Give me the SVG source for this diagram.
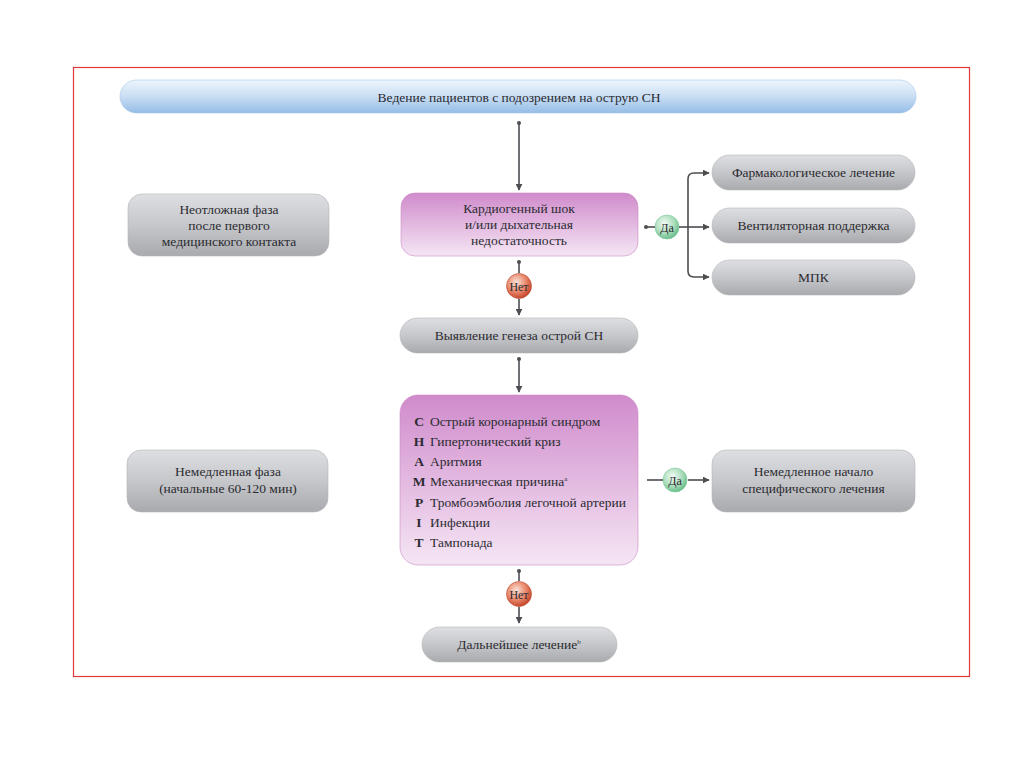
<svg xmlns="http://www.w3.org/2000/svg" width="1024" height="767" viewBox="0 0 1024 767">
<defs>
<linearGradient id="gGray" x1="0" y1="0" x2="0" y2="1">
<stop offset="0" stop-color="#dedfe2"/>
<stop offset="0.5" stop-color="#c6c7ca"/>
<stop offset="1" stop-color="#a9aaae"/>
</linearGradient>
<linearGradient id="gPink" x1="0" y1="0" x2="0" y2="1">
<stop offset="0" stop-color="#d08bcc"/>
<stop offset="1" stop-color="#f5e6f4"/>
</linearGradient>
<linearGradient id="gBlue" x1="0" y1="0" x2="0" y2="1">
<stop offset="0" stop-color="#eef5fc"/>
<stop offset="0.5" stop-color="#c9def3"/>
<stop offset="1" stop-color="#95bde7"/>
</linearGradient>
<radialGradient id="gGreen" cx="0.4" cy="0.35" r="0.7">
<stop offset="0" stop-color="#f2fbf5"/>
<stop offset="0.6" stop-color="#a8dcb9"/>
<stop offset="1" stop-color="#5fb883"/>
</radialGradient>
<radialGradient id="gRed" cx="0.4" cy="0.35" r="0.7">
<stop offset="0" stop-color="#fbe3d8"/>
<stop offset="0.55" stop-color="#e8876a"/>
<stop offset="1" stop-color="#bf3b22"/>
</radialGradient>
<marker id="arr" viewBox="0 0 10 10" refX="9" refY="5" markerWidth="7" markerHeight="7" markerUnits="userSpaceOnUse" orient="auto">
<path d="M0,0 L10,5 L0,10 z" fill="#4d4d52"/>
</marker>
<marker id="tail" viewBox="0 0 10 10" refX="5" refY="5" markerWidth="4" markerHeight="4" markerUnits="userSpaceOnUse" orient="auto">
<circle cx="5" cy="5" r="5" fill="#4d4d52"/>
</marker>
</defs>
<style>
.t{font-family:"Liberation Serif","Times New Roman",serif;font-size:13.5px;fill:#2b2b31;text-anchor:middle}
.l{font-family:"Liberation Serif","Times New Roman",serif;font-size:13.5px;fill:#2b2b31}
.b{font-weight:bold}
.gray{fill:url(#gGray);stroke:#b5b6b9;stroke-width:0.6}
.pink{fill:url(#gPink);stroke:#c98ac5;stroke-width:0.6}
.c{stroke:#4d4d52;stroke-width:1.6;fill:none}
</style>
<rect width="1024" height="767" fill="#ffffff"/>
<rect x="73.5" y="67.5" width="896" height="609" fill="none" stroke="#e2383a" stroke-width="1.2"/>

<g id="header">
<rect x="120" y="80" width="796" height="33" rx="16.5" fill="url(#gBlue)" stroke="#a8c6e6" stroke-width="0.6"/>
<text class="t" x="519" y="101.5">Ведение пациентов с подозрением на острую СН</text>
</g>

<g id="phase1">
<rect class="gray" x="128" y="194" width="201" height="62" rx="14"/>
<text class="t" x="229" y="214">Неотложная фаза</text>
<text class="t" x="229" y="230">после первого</text>
<text class="t" x="229" y="246">медицинского контакта</text>
</g>

<g id="phase2">
<rect class="gray" x="127" y="450" width="201" height="62" rx="14"/>
<text class="t" x="228" y="476">Немедленная фаза</text>
<text class="t" x="228" y="493">(начальные 60-120 мин)</text>
</g>

<g id="shock">
<rect class="pink" x="401" y="193" width="237" height="63" rx="14"/>
<text class="t" x="519" y="213">Кардиогенный шок</text>
<text class="t" x="519" y="229">и/или дыхательная</text>
<text class="t" x="519" y="245">недостаточность</text>
</g>

<g id="yes1">
<circle cx="667" cy="227" r="12" fill="url(#gGreen)" stroke="#7cc89a" stroke-width="0.6"/>
<text class="t" x="667" y="231.5" style="font-size:12px">Да</text>
</g>

<g id="pharm">
<rect class="gray" x="712" y="155" width="203" height="35" rx="17.5"/>
<text class="t" x="813.5" y="177">Фармакологическое лечение</text>
</g>
<g id="vent">
<rect class="gray" x="712" y="208" width="203" height="35" rx="17.5"/>
<text class="t" x="813.5" y="230">Вентиляторная поддержка</text>
</g>
<g id="mpk">
<rect class="gray" x="712" y="260" width="203" height="35" rx="17.5"/>
<text class="t" x="813.5" y="282">МПК</text>
</g>

<g id="no1">
<circle cx="519" cy="286" r="12.5" fill="url(#gRed)" stroke="#b84a30" stroke-width="0.6"/>
<text class="t" x="519" y="290.5" style="font-size:12px">Нет</text>
</g>

<g id="genesis">
<rect class="gray" x="400" y="318" width="238" height="35" rx="17.5"/>
<text class="t" x="519" y="340">Выявление генеза острой СН</text>
</g>

<g id="champit">
<rect class="pink" x="400" y="395" width="238" height="170" rx="18"/>
<text class="t b" x="419" y="426">C</text><text class="l" x="430" y="426">Острый коронарный синдром</text>
<text class="t b" x="419" y="446">H</text><text class="l" x="430" y="446">Гипертонический криз</text>
<text class="t b" x="419" y="466">A</text><text class="l" x="430" y="466">Аритмия</text>
<text class="t b" x="419" y="486">M</text><text class="l" x="430" y="486">Механическая причина<tspan style="font-size:7px" dy="-5">a</tspan></text>
<text class="t b" x="419" y="507">P</text><text class="l" x="430" y="507">Тромбоэмболия легочной артерии</text>
<text class="t b" x="419" y="527">I</text><text class="l" x="430" y="527">Инфекции</text>
<text class="t b" x="419" y="547">T</text><text class="l" x="430" y="547">Тампонада</text>
</g>

<g id="yes2">
<circle cx="675" cy="480" r="12" fill="url(#gGreen)" stroke="#7cc89a" stroke-width="0.6"/>
<text class="t" x="675" y="484.5" style="font-size:12px">Да</text>
</g>

<g id="specific">
<rect class="gray" x="712" y="450" width="203" height="62" rx="14"/>
<text class="t" x="813.5" y="476">Немедленное начало</text>
<text class="t" x="813.5" y="493">специфического лечения</text>
</g>

<g id="no2">
<circle cx="519" cy="594" r="12.5" fill="url(#gRed)" stroke="#b84a30" stroke-width="0.6"/>
<text class="t" x="519" y="598.5" style="font-size:12px">Нет</text>
</g>

<g id="further">
<rect class="gray" x="422" y="627" width="195" height="35" rx="17.5"/>
<text class="t" x="519" y="649">Дальнейшее лечение<tspan style="font-size:7px" dy="-5">b</tspan></text>
</g>

<g id="connectors">
<line class="c" x1="519" y1="123" x2="519" y2="190" marker-start="url(#tail)" marker-end="url(#arr)"/>
<line class="c" x1="519" y1="262" x2="519" y2="273" marker-start="url(#tail)"/>
<line class="c" x1="519" y1="299" x2="519" y2="315" marker-end="url(#arr)"/>
<line class="c" x1="519" y1="359" x2="519" y2="392" marker-start="url(#tail)" marker-end="url(#arr)"/>
<line class="c" x1="646" y1="227" x2="655" y2="227" marker-start="url(#tail)"/>
<line class="c" x1="679" y1="227" x2="709" y2="227" marker-end="url(#arr)"/>
<path class="c" d="M688,227 V179 Q688,173 694,173 H709" marker-end="url(#arr)"/>
<path class="c" d="M688,227 V271 Q688,277 694,277 H709" marker-end="url(#arr)"/>
<line class="c" x1="647" y1="480" x2="663" y2="480"/>
<line class="c" x1="688" y1="480" x2="709" y2="480" marker-end="url(#arr)"/>
<line class="c" x1="519" y1="571" x2="519" y2="581" marker-start="url(#tail)"/>
<line class="c" x1="519" y1="607" x2="519" y2="623" marker-end="url(#arr)"/>
</g>
</svg>
